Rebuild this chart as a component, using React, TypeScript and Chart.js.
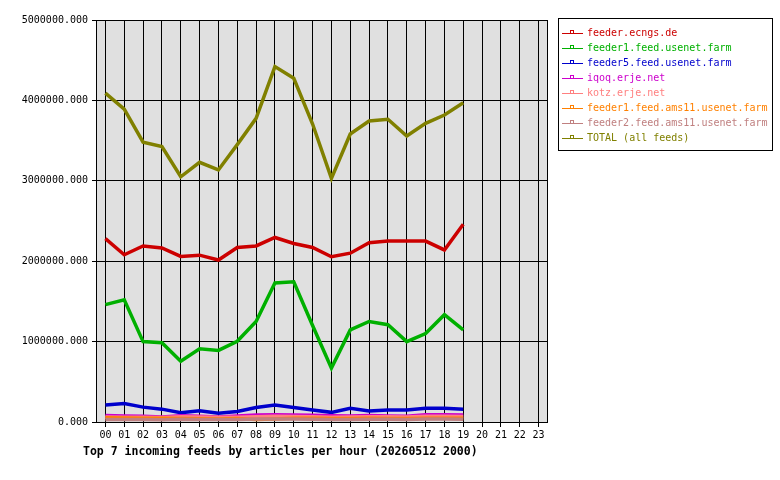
import { Chart, ChartConfiguration, Plugin, registerables } from "chart.js";
import { useEffect, useState } from "react";

Chart.register(...registerables);

const hours = ["00", "01", "02", "03", "04", "05", "06", "07", "08", "09", "10", "11", "12", "13", "14", "15", "16", "17", "18", "19", "20", "21", "22", "23"];

const feederEcngs = [2280000, 2080000, 2190000, 2165000, 2060000, 2075000, 2015000, 2170000, 2190000, 2295000, 2220000, 2170000, 2055000, 2100000, 2230000, 2250000, 2250000, 2250000, 2140000, 2460000];
const feeder1Usenet = [1460000, 1520000, 1000000, 985000, 755000, 910000, 890000, 1005000, 1250000, 1730000, 1745000, 1200000, 670000, 1145000, 1250000, 1210000, 1000000, 1100000, 1335000, 1145000];
const feeder5Usenet = [210000, 230000, 185000, 160000, 115000, 140000, 108000, 130000, 180000, 210000, 180000, 150000, 120000, 170000, 137000, 150000, 150000, 170000, 170000, 158000];
const iqoq = [82000, 75000, 70000, 62000, 78000, 72000, 62000, 74000, 86000, 90000, 88000, 84000, 78000, 76000, 82000, 76000, 72000, 90000, 90000, 88000];
const kotz = [62000, 60000, 58000, 56000, 64000, 62000, 58000, 60000, 66000, 70000, 68000, 64000, 60000, 62000, 66000, 64000, 62000, 70000, 70000, 68000];
const feeder1Ams11 = [52000, 50000, 48000, 46000, 42000, 40000, 36000, 44000, 30000, 38000, 48000, 46000, 42000, 44000, 46000, 44000, 42000, 48000, 48000, 46000];
const feeder2Ams11 = [32000, 30000, 30000, 28000, 34000, 32000, 30000, 32000, 36000, 38000, 36000, 34000, 32000, 32000, 34000, 34000, 32000, 36000, 36000, 34000];
const totalAll = [4090000, 3890000, 3480000, 3425000, 3050000, 3230000, 3135000, 3450000, 3777000, 4420000, 4275000, 3706000, 3030000, 3582000, 3744000, 3765000, 3557000, 3715000, 3818000, 3970000];

const seriesNames = ["feeder.ecngs.de", "feeder1.feed.usenet.farm", "feeder5.feed.usenet.farm", "iqoq.erje.net", "kotz.erje.net", "feeder1.feed.ams11.usenet.farm", "feeder2.feed.ams11.usenet.farm", "TOTAL (all feeds)"];
const seriesColors = ["#cc0000", "#00b000", "#0000cc", "#cc00cc", "#ff8080", "#ff8000", "#c08080", "#808000"];
const seriesValues = [feederEcngs, feeder1Usenet, feeder5Usenet, iqoq, kotz, feeder1Ams11, feeder2Ams11, totalAll];

const yTicks = [0, 1000000, 2000000, 3000000, 4000000, 5000000];

const mono = "'DejaVu Sans Mono', monospace";

const framePlugin: Plugin<"line"> = {
  id: "frame",
  beforeDraw(chart) {
    const { ctx, chartArea } = chart;
    ctx.save();
    ctx.fillStyle = "#ffffff";
    ctx.fillRect(0, 0, chart.width, chart.height);
    ctx.fillStyle = "#e0e0e0";
    ctx.fillRect(chartArea.left, chartArea.top, chartArea.right - chartArea.left, chartArea.bottom - chartArea.top);
    ctx.restore();
  },
  afterDraw(chart) {
    const { ctx, chartArea } = chart;
    ctx.save();
    ctx.strokeStyle = "#000000";
    ctx.lineWidth = 1;
    ctx.strokeRect(chartArea.left + 0.5, chartArea.top + 0.5, chartArea.right - chartArea.left - 1, chartArea.bottom - chartArea.top);

    // legend box
    const lx = 558;
    const ly = 18;
    ctx.fillStyle = "#ffffff";
    ctx.fillRect(lx, ly, 214, 132);
    ctx.strokeRect(lx + 0.5, ly + 0.5, 214, 132);
    ctx.font = `10px ${mono}`;
    ctx.textBaseline = "middle";
    seriesNames.forEach((name, i) => {
      const y = 33 + i * 15;
      ctx.strokeStyle = seriesColors[i];
      ctx.beginPath();
      ctx.moveTo(562, y + 0.5);
      ctx.lineTo(583, y + 0.5);
      ctx.stroke();
      ctx.strokeRect(570.5, y - 2.5, 3, 3);
      ctx.fillStyle = seriesColors[i];
      ctx.fillText(name, 587, y);
    });

    // title
    ctx.fillStyle = "#000000";
    ctx.font = `bold 11.5px ${mono}`;
    ctx.textBaseline = "middle";
    ctx.fillText("Top 7 incoming feeds by articles per hour (20260512 2000)", 83, 452);
    ctx.restore();
  }
};

function App() {
  const [canvas, setCanvas] = useState<HTMLCanvasElement | null>(null);

  useEffect(() => {
    if (!canvas) {
      return;
    }

    const config: ChartConfiguration<"line"> = {
      type: "line",
      data: {
        labels: hours,
        datasets: seriesValues.map((values, i) => ({
          label: seriesNames[i],
          data: values,
          borderColor: seriesColors[i],
          backgroundColor: seriesColors[i],
          borderWidth: 3.5,
          pointRadius: 0,
          tension: 0,
          fill: false,
          order: 8 - i
        }))
      },
      options: {
        animation: false,
        responsive: false,
        devicePixelRatio: 1,
        layout: { padding: { left: 0, top: 20, right: 232, bottom: 0 } },
        plugins: {
          legend: { display: false },
          title: { display: false },
          tooltip: { enabled: false }
        },
        scales: {
          x: {
            type: "category",
            offset: true,
            border: { display: false },
            grid: {
              offset: false,
              color: "#000000",
              lineWidth: 1,
              tickLength: 5,
              drawOnChartArea: true
            },
            ticks: {
              color: "#000000",
              font: { family: mono, size: 10 },
              padding: 2,
              maxRotation: 0,
              autoSkip: false
            },
            afterFit: (scale) => {
              scale.height = 58;
            }
          },
          y: {
            min: 0,
            max: 5000000,
            border: { display: false },
            grid: {
              color: "#000000",
              lineWidth: 1,
              tickLength: 4
            },
            afterBuildTicks: (scale) => {
              scale.ticks = yTicks.map((v) => ({ value: v }));
            },
            ticks: {
              color: "#000000",
              font: { family: mono, size: 10 },
              padding: 4,
              callback: (v) => Number(v).toFixed(3)
            },
            afterFit: (scale) => {
              scale.width = 96;
            }
          }
        }
      },
      plugins: [framePlugin]
    };

    const chart = new Chart(canvas, config);
    return () => {
      chart.destroy();
    };
  }, [canvas]);

  return (
    <div style={{ position: "absolute", left: 0, top: 0, width: 780, height: 480, background: "#fff" }}>
      <canvas ref={setCanvas} width={780} height={480} style={{ width: 780, height: 480 }} />
    </div>
  );
}

export default App;
